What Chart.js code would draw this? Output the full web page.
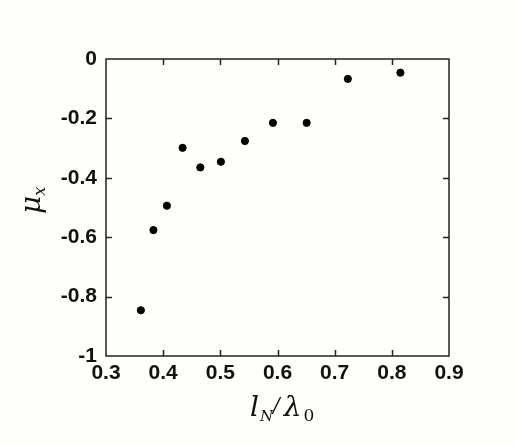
<!DOCTYPE html>
<html><head><meta charset="utf-8">
<script src="https://cdn.jsdelivr.net/npm/chart.js@4"></script>
<style>html,body{margin:0;padding:0;background:#fefefb;}#wrap{width:516px;height:446px;}</style>
</head><body><div id="wrap"><canvas id="c" width="516" height="446"></canvas></div>
<script>
const lnOverLambda = [0.361, 0.383, 0.4065, 0.434, 0.465, 0.501, 0.543, 0.592, 0.651, 0.723, 0.815];
const muX = [-0.846, -0.576, -0.494, -0.299, -0.365, -0.346, -0.276, -0.215, -0.215, -0.067, -0.046];
const xTicks = [0.3, 0.4, 0.5, 0.6, 0.7, 0.8, 0.9];
const yTicks = [0, -0.2, -0.4, -0.6, -0.8, -1];

const points = lnOverLambda.map((x, i) => ({x: x, y: muX[i]}));

const framePlugin = {
  id: 'frame',
  afterDraw(chart) {
    const ctx = chart.ctx, a = chart.chartArea;
    const xs = chart.scales.x, ys = chart.scales.y;
    ctx.save();
    ctx.strokeStyle = '#222';
    ctx.lineWidth = 1.5;
    ctx.strokeRect(a.left, a.top, a.right - a.left, a.bottom - a.top);
    const L = 6;
    ctx.beginPath();
    xTicks.slice(1, -1).forEach(v => {
      const px = Math.round(xs.getPixelForValue(v)) + 0.5;
      ctx.moveTo(px, a.bottom); ctx.lineTo(px, a.bottom - L);
      ctx.moveTo(px, a.top); ctx.lineTo(px, a.top + L);
    });
    yTicks.slice(1, -1).forEach(v => {
      const py = Math.round(ys.getPixelForValue(v)) + 0.5;
      ctx.moveTo(a.left, py); ctx.lineTo(a.left + L, py);
      ctx.moveTo(a.right, py); ctx.lineTo(a.right - L, py);
    });
    ctx.stroke();

    // axis titles
    ctx.fillStyle = '#111';
    ctx.textBaseline = 'alphabetic';
    // x title: l_N / λ_0
    let x = 250, y = 416;
    ctx.textAlign = 'left';
    ctx.font = 'italic 28px "DejaVu Serif", serif';
    ctx.fillText('l', x, y); x += ctx.measureText('l').width + 1;
    ctx.font = 'italic 15px "DejaVu Serif", serif';
    ctx.fillText('N', x, y + 5); x += ctx.measureText('N').width;
    ctx.font = 'italic 20px "DejaVu Serif", serif';
    ctx.fillText('/', x, y - 4); x += ctx.measureText('/').width + 4;
    ctx.font = 'italic 28px "DejaVu Serif", serif';
    ctx.fillText('λ', x, y); x += ctx.measureText('λ').width + 2;
    ctx.font = '17px "DejaVu Serif", serif';
    ctx.fillText('0', x, y + 5);

    // y title: μ_x rotated
    ctx.save();
    ctx.translate(40, 214);
    ctx.rotate(-Math.PI / 2);
    ctx.font = 'italic 28px "DejaVu Serif", serif';
    ctx.fillText('μ', 0, 0);
    const w = ctx.measureText('μ').width;
    ctx.font = 'italic 16px "DejaVu Serif", serif';
    ctx.fillText('x', w, 5);
    ctx.restore();
    ctx.restore();
  }
};

new Chart(document.getElementById('c'), {
  type: 'scatter',
  data: { datasets: [{ data: points, backgroundColor: '#000', borderColor: '#000', pointRadius: 3.6, pointHoverRadius: 3.6 }] },
  options: {
    responsive: false,
    animation: false,
    events: [],
    layout: { padding: { left: 0, right: 67, top: 59, bottom: 0 } },
    plugins: { legend: { display: false }, tooltip: { enabled: false } },
    scales: {
      x: {
        type: 'linear', min: 0.3, max: 0.9,
        afterBuildTicks(s) { s.ticks = xTicks.map(v => ({value: v})); },
        afterFit(s) { s.height = 90; },
        grid: { display: false, drawTicks: false },
        border: { display: false },
        ticks: { color: '#111', padding: 5, font: { family: '"Liberation Sans", Arial, sans-serif', size: 21, weight: 'bold' }, maxRotation: 0,
                 callback: v => String(Math.round(v * 10) / 10) }
      },
      y: {
        type: 'linear', min: -1, max: 0,
        afterBuildTicks(s) { s.ticks = yTicks.map(v => ({value: v})); },
        afterFit(s) { s.width = 106; },
        grid: { display: false, drawTicks: false },
        border: { display: false },
        ticks: { color: '#111', padding: 9, font: { family: '"Liberation Sans", Arial, sans-serif', size: 21, weight: 'bold' },
                 callback: v => String(Math.round(v * 10) / 10) }
      }
    }
  },
  plugins: [framePlugin]
});
</script></body></html>
